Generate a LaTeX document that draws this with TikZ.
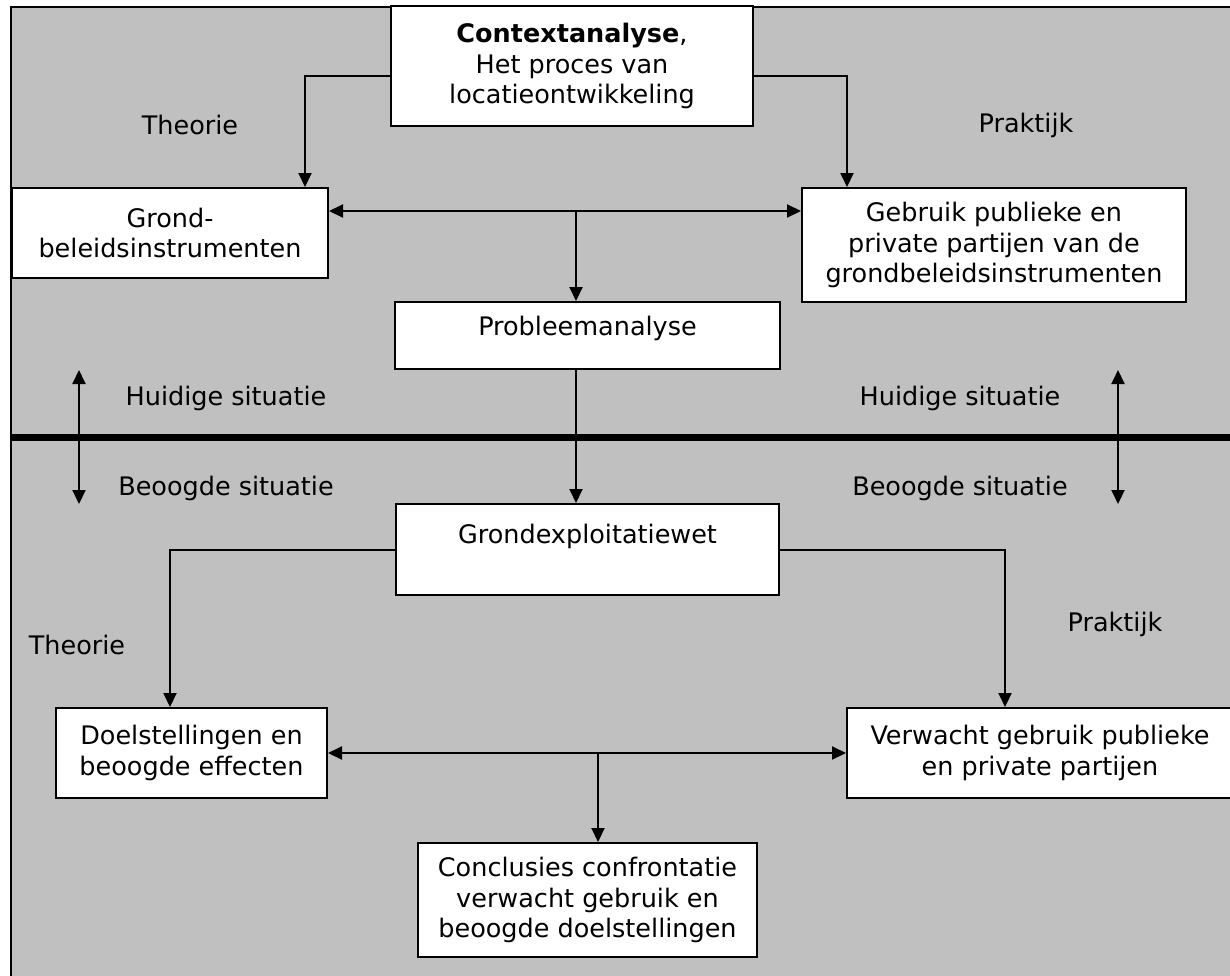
\documentclass[tikz,border=0pt]{standalone}
\usepackage{fontspec}
\setmainfont{DejaVu Sans}
\usetikzlibrary{arrows.meta}
\definecolor{bggray}{HTML}{C0C0C0}

\begin{document}
\begin{tikzpicture}[x=1pt,y=-1pt,font=\fontsize{25.5}{30.5}\selectfont,
    >={Triangle[length=14pt,width=13pt]},
    box/.style={draw,line width=2pt,fill=white,align=center,inner sep=0pt},
    link/.style={line width=2pt}]
  \useasboundingbox (0,0) rectangle (1230,975);
  \draw[line width=2pt,fill=bggray] (11,7) rectangle (1260,1000);
  \draw[line width=7pt] (11,437) -- (1260,437);

  \node[box,minimum width=362pt,minimum height=120pt] (ctx) at (572,66)
    {{\bfseries Contextanalyse},\\Het proces van\\locatieontwikkeling};
  \node[box,minimum width=316pt,minimum height=90pt] (grond) at (170,233)
    {Grond-\\beleidsinstrumenten};
  \node[box,minimum width=384pt,minimum height=114pt] (gebruik) at (994,245)
    {Gebruik publieke en\\private partijen van de\\grondbeleidsinstrumenten};
  \node[box,minimum width=385pt,minimum height=67pt,text depth=20pt] (probleem) at (587.5,335.5)
    {Probleemanalyse};
  \node[box,minimum width=383pt,minimum height=91pt] (gexw) at (587.5,549.5)
    {Grondexploitatiewet\\~};
  \node[box,minimum width=271pt,minimum height=90pt] (doel) at (191.5,753)
    {Doelstellingen en\\beoogde effecten};
  \node[box,minimum width=386pt,minimum height=90pt] (verwacht) at (1040,753)
    {Verwacht gebruik publieke\\en private partijen};
  \node[box,minimum width=339pt,minimum height=114pt] (concl) at (587.5,900)
    {Conclusies confrontatie\\verwacht gebruik en\\beoogde doelstellingen};

  \node (theorie1) at (190,125) {Theorie};
  \node (praktijk1) at (1026,125) {Praktijk};
  \node (huidig1) at (226,398) {Huidige situatie};
  \node (huidig2) at (960,398) {Huidige situatie};
  \node (beoogd1) at (226,488) {Beoogde situatie};
  \node (beoogd2) at (960,488) {Beoogde situatie};
  \node (theorie2) at (77,645) {Theorie};
  \node (praktijk2) at (1115,624) {Praktijk};

  \coordinate (jb) at (576,211);
  \coordinate (jo) at (598,753);
  \coordinate (sl1) at (79,370);
  \coordinate (sl2) at (79,504);
  \coordinate (sr1) at (1118,370);
  \coordinate (sr2) at (1118,504);

  \draw[link,->] ([yshift=-10pt]ctx.west) -| ([xshift=135pt]grond.north);
  \draw[link,->] ([yshift=-10pt]ctx.east) -| ([xshift=-147pt]gebruik.north);
  \draw[link,<->] (jb -| grond.east) -- (jb -| gebruik.west);
  \draw[link,->] (jb) -- (jb |- probleem.north);
  \draw[link,->] (jb |- probleem.south) -- (jb |- gexw.north);
  \draw[link,->] (gexw.west) -| ([xshift=-21.5pt]doel.north);
  \draw[link,->] (gexw.east) -| ([xshift=-35pt]verwacht.north);
  \draw[link,<->] (doel.east) -- (verwacht.west);
  \draw[link,->] (jo) -- (jo |- concl.north);

  \draw[link,<->] (sl1) -- (sl2);
  \draw[link,<->] (sr1) -- (sr2);
\end{tikzpicture}
\end{document}
